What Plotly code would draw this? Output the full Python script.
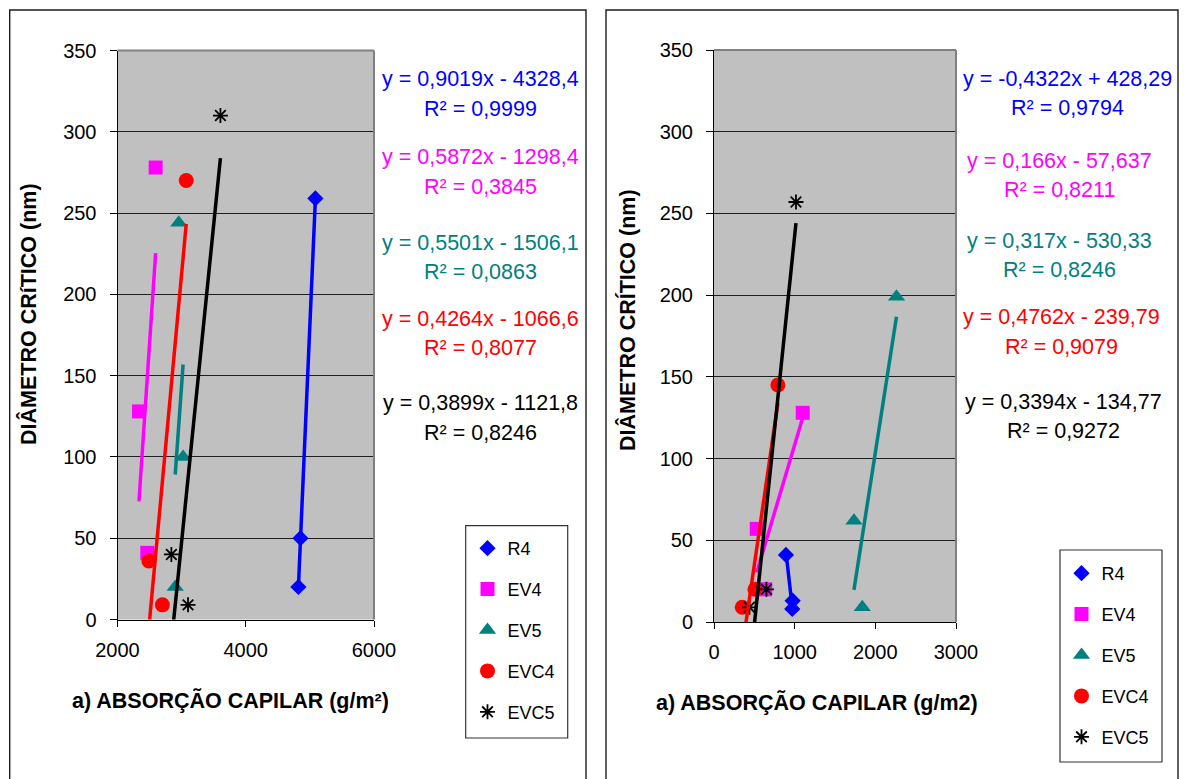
import plotly.graph_objects as go

# ---------------- data ----------------
series_names = ["R4", "EV4", "EV5", "EVC4", "EVC5"]

# left chart (absorção capilar 2000-6000)
left_x = {
    "R4":   [4821, 4854, 5086],
    "EV4":  [2335, 2465, 2595],
    "EV5":  [2900, 3023, 2955],
    "EVC4": [2490, 2700, 3072],
    "EVC5": [2840, 3100, 3605],
}
left_y = {
    "R4":   [20, 50, 259],
    "EV4":  [128, 41, 278],
    "EV5":  [20, 100, 244],
    "EVC4": [36, 9, 270],
    "EVC5": [40, 9, 310],
}
# trendline coefficients (slope, intercept) drawn for each series
left_slope = {"R4": 0.9019, "EV4": 0.5872, "EV5": 0.5501, "EVC4": 0.4264, "EVC5": 0.3899}
left_icpt = {"R4": -4328.4, "EV4": -1298.4, "EV5": -1506.1, "EVC4": -1066.6, "EVC5": -1121.8}

# right chart (absorção capilar 0-3000)
right_x = {
    "R4":   [892, 975, 970],
    "EV4":  [530, 635, 1100],
    "EV5":  [1735, 1838, 2262],
    "EVC4": [350, 508, 792],
    "EVC5": [440, 650, 1016],
}
right_y = {
    "R4":   [41, 13, 8],
    "EV4":  [57, 20, 128],
    "EV5":  [62, 9, 199],
    "EVC4": [9, 20, 145],
    "EVC5": [9, 20, 257],
}
right_slope = {"R4": -0.4322, "EV4": 0.166, "EV5": 0.317, "EVC4": 0.3394, "EVC5": 0.4762}
right_icpt = {"R4": 428.29, "EV4": -57.637, "EV5": -530.33, "EVC4": -134.77, "EVC5": -239.79}

# equation labels as printed on the chart
left_eq = ["y = 0,9019x - 4328,4", "y = 0,5872x - 1298,4", "y = 0,5501x - 1506,1",
           "y = 0,4264x - 1066,6", "y = 0,3899x - 1121,8"]
left_r2 = ["R² = 0,9999", "R² = 0,3845", "R² = 0,0863", "R² = 0,8077", "R² = 0,8246"]
right_eq = ["y = -0,4322x + 428,29", "y = 0,166x - 57,637", "y = 0,317x - 530,33",
            "y = 0,4762x - 239,79", "y = 0,3394x - 134,77"]
right_r2 = ["R² = 0,9794", "R² = 0,8211", "R² = 0,8246", "R² = 0,9079", "R² = 0,9272"]

y_ticks = [0, 50, 100, 150, 200, 250, 300, 350]
left_x_ticks = [2000, 4000, 6000]
right_x_ticks = [0, 1000, 2000, 3000]

# ---------------- styles ----------------
W, H = 1184, 779
FONT = "Liberation Sans, Arial, sans-serif"
colors = {"R4": "#0000FF", "EV4": "#FF00FF", "EV5": "#008080", "EVC4": "#FF0000", "EVC5": "#000000"}
label_colors = ["#0000FF", "#FF00FF", "#008080", "#FF0000", "#000000"]
symbols = {"R4": "diamond", "EV4": "square", "EV5": "triangle-up", "EVC4": "circle", "EVC5": "asterisk-open"}
msizes = {"R4": 12.5, "EV4": 14, "EV5": 15, "EVC4": 15, "EVC5": 12.5}


def px(v):
    return v / W


def py(v):
    return 1 - v / H


fig = go.Figure()

panels = [
    (left_x, left_y, left_slope, left_icpt, "x", "y", "legend"),
    (right_x, right_y, right_slope, right_icpt, "x2", "y2", "legend2"),
]

# markers
for xs, ys, sl, ic, xa, ya, lg in panels:
    for name in series_names:
        mk = dict(symbol=symbols[name], size=msizes[name], color=colors[name])
        if name == "EVC5":
            mk["line"] = dict(color="#000000", width=1.8)
        else:
            mk["line"] = dict(width=0)
        fig.add_trace(go.Scatter(
            x=xs[name], y=ys[name], mode="markers", name=name, marker=mk,
            xaxis=xa, yaxis=ya, legend=lg, legendgroup=lg + name,
            cliponaxis=False, hoverinfo="x+y+name"))

# trendlines
for xs, ys, sl, ic, xa, ya, lg in panels:
    for name in series_names:
        xmin, xmax = min(xs[name]), max(xs[name])
        tx = [xmin, xmax]
        ty = [sl[name] * v + ic[name] for v in tx]
        fig.add_trace(go.Scatter(
            x=tx, y=ty, mode="lines", line=dict(color=colors[name], width=3.5),
            xaxis=xa, yaxis=ya, showlegend=False, hoverinfo="skip"))

axis_common = dict(ticks="outside", tickcolor="black", showline=True, linecolor="black",
                   linewidth=1, zeroline=False, tickfont=dict(size=20, color="black", family=FONT))

fig.update_layout(
    width=W, height=H, margin=dict(l=0, r=0, t=0, b=0, autoexpand=False),
    paper_bgcolor="white", plot_bgcolor="#C0C0C0",
    font=dict(family=FONT, color="black"),
    xaxis=dict(domain=[px(117.5), px(374)], range=[2000, 6000], tickvals=left_x_ticks,
               ticklen=6, showgrid=False, anchor="y", ticklabelstandoff=6, **axis_common),
    yaxis=dict(domain=[py(619.5), py(50.5)], range=[0, 350], tickvals=y_ticks,
               ticklen=7, showgrid=True, gridcolor="#1e1e1e", gridwidth=1, anchor="x",
               ticklabelstandoff=9, **axis_common),
    xaxis2=dict(domain=[px(714), px(956)], range=[0, 3000], tickvals=right_x_ticks,
                ticklen=6, showgrid=False, anchor="y2", ticklabelstandoff=6, **axis_common),
    yaxis2=dict(domain=[py(622), py(50)], range=[0, 350], tickvals=y_ticks,
                ticklen=7, showgrid=True, gridcolor="#1e1e1e", gridwidth=1, anchor="x2",
                ticklabelstandoff=9, **axis_common),
    legend=dict(x=px(467.5), y=py(530), xanchor="left", yanchor="top",
                bgcolor="rgba(0,0,0,0)", borderwidth=0, tracegroupgap=14.5,
                font=dict(size=18, color="black", family=FONT)),
    legend2=dict(x=px(1061.5), y=py(555), xanchor="left", yanchor="top",
                 bgcolor="rgba(0,0,0,0)", borderwidth=0, tracegroupgap=14.5,
                 font=dict(size=18, color="black", family=FONT)),
)

shapes = []
# panel frames
shapes.append(dict(type="rect", xref="paper", yref="paper", x0=px(9.7), x1=px(586),
                   y0=py(800), y1=py(10), line=dict(color="#1a1a1a", width=1.4)))
shapes.append(dict(type="rect", xref="paper", yref="paper", x0=px(606), x1=px(1178),
                   y0=py(800), y1=py(10), line=dict(color="#1a1a1a", width=1.4)))
# legend boxes
shapes.append(dict(type="rect", xref="paper", yref="paper", x0=px(465.7), x1=px(567.7),
                   y0=py(738), y1=py(525.7), line=dict(color="#333333", width=1.2)))
shapes.append(dict(type="rect", xref="paper", yref="paper", x0=px(1060), x1=px(1162),
                   y0=py(762), y1=py(550), line=dict(color="#333333", width=1.2)))
# gray top/right plot-area borders
for xa, ya in (("x", "y"), ("x2", "y2")):
    shapes.append(dict(type="line", xref=xa + " domain", yref=ya + " domain", x0=0, x1=1, y0=1, y1=1,
                       line=dict(color="#808080", width=2), layer="above"))
    shapes.append(dict(type="line", xref=xa + " domain", yref=ya + " domain", x0=1, x1=1, y0=0, y1=1,
                       line=dict(color="#808080", width=2), layer="above"))
fig.update_layout(shapes=shapes)

ann = []
left_eq_y = [(79, 109), (157, 187), (243, 272), (319, 348), (403, 433)]
right_eq_y = [(79, 108), (161, 190), (241, 270), (317, 347), (402, 431)]
right_eq_x = [1067, 1059, 1059, 1061, 1063]
for i in range(5):
    for txt, yy, xx in ((left_eq[i], left_eq_y[i][0], 480), (left_r2[i], left_eq_y[i][1], 480),
                        (right_eq[i], right_eq_y[i][0], right_eq_x[i]),
                        (right_r2[i], right_eq_y[i][1], right_eq_x[i])):
        ann.append(dict(text=txt, x=px(xx), y=py(yy), xref="paper", yref="paper",
                        xanchor="center", yanchor="middle", showarrow=False,
                        font=dict(size=21.5, color=label_colors[i], family=FONT)))

title_font = dict(size=21.5, color="black", family=FONT)
ann.append(dict(text="<b>DIÂMETRO CRíTICO (nm)</b>", x=px(28), y=py(314), xref="paper", yref="paper",
                textangle=-90, showarrow=False, xanchor="center", yanchor="middle", font=title_font))
ann.append(dict(text="<b>DIÂMETRO CRÍTICO (nm)</b>", x=px(627), y=py(320), xref="paper", yref="paper",
                textangle=-90, showarrow=False, xanchor="center", yanchor="middle", font=title_font))
ann.append(dict(text="<b>a) ABSORÇÃO CAPILAR (g/m²)</b>", x=px(230.5), y=py(700), xref="paper", yref="paper",
                showarrow=False, xanchor="center", yanchor="middle", font=title_font))
ann.append(dict(text="<b>a) ABSORÇÃO CAPILAR (g/m2)</b>", x=px(817.5), y=py(702), xref="paper", yref="paper",
                showarrow=False, xanchor="center", yanchor="middle", font=title_font))
fig.update_layout(annotations=ann)

fig.write_html("out.html")
